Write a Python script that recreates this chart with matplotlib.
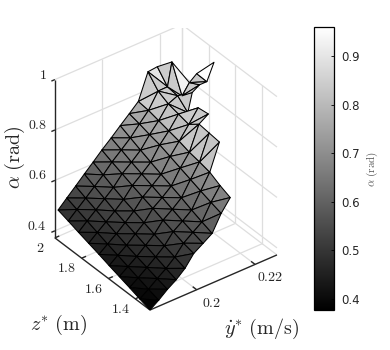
import numpy as np
import matplotlib
matplotlib.use("Agg")
import matplotlib.pyplot as plt
from matplotlib.cm import ScalarMappable
from matplotlib.colors import Normalize
from mpl_toolkits.mplot3d import proj3d
from mpl_toolkits.mplot3d.art3d import Poly3DCollection

plt.rcParams["mathtext.fontset"] = "cm"

n = np.nan

# grid
y_star = [0.184, 0.187, 0.190, 0.193, 0.196, 0.199, 0.2022, 0.2053, 0.2084, 0.2115,
          0.2148, 0.218, 0.2195, 0.222, 0.2245]
z_star = [1.29, 1.366, 1.443, 1.519, 1.595, 1.671, 1.748, 1.824, 1.900, 1.976]

# rows: z_star, columns: y_star
alpha = [
    [.372, .396, .424, .447, .477, .521, .545, .569, .633, .680, n, n, n, n, n],
    [.385, .409, .436, .461, .491, .531, .558, .584, .646, .697, n, n, n, n, n],
    [.399, .423, .449, .476, .505, .546, .572, .600, .660, .719, .822, n, n, n, n],
    [.412, .437, .462, .491, .520, .561, .588, .618, .675, .729, .827, n, n, n, n],
    [.425, .451, .476, .506, .535, .577, .604, .634, .690, .737, .832, .856, n, n, n],
    [.439, .465, .491, .520, .551, .591, .620, .650, .705, .750, .800, .850, n, n, n],
    [.452, .480, .507, .535, .566, .606, .636, .667, .720, .760, .810, .800, .872, .890, .890],
    [.465, .495, .524, .553, .583, .622, .652, .684, .730, .770, .820, .836, .828, .868, .891],
    [.479, .510, .540, .571, .602, .638, .670, .702, .742, .780, .840, .841, .932, n, n],
    [.492, .525, .557, .590, .622, .655, .687, .720, .752, .785, .886, .890, n, n, n],
]

# tip of the spike, off the grid
tip = (0.2262, 1.7315, 0.965)

# the few near white faces at the top
white_faces = {((12, 7), (13, 7), (12, 8)): 0.93, ((11, 8), (11, 9), (10, 9)): 0.90}

y_lim = (0.184, 0.2275)
z_lim = (1.29, 2.0)
a_lim = (0.372, 1.0)
y_ticks = [0.2, 0.22]
z_ticks = [1.4, 1.6, 1.8, 2.0]
a_ticks = [0.4, 0.6, 0.8, 1.0]
y_labels = ["0.2", "0.22"]
z_labels = ["1.4", "1.6", "1.8", "2"]
a_labels = ["0.4", "0.6", "0.8", "1"]
cbar_ticks = [0.4, 0.5, 0.6, 0.7, 0.8, 0.9]

fig = plt.figure(figsize=(3.9, 3.5), dpi=100)
ax = fig.add_axes([0.1, 0.1, 0.7, 0.78], projection="3d", proj_type="ortho")
ax.view_init(elev=35, azim=232.9)
ax.set_box_aspect((159, 157.5, 193))
ax.set_xlim(*y_lim, view_margin=0)
ax.set_ylim(*z_lim, view_margin=0)
ax.set_zlim(*a_lim, view_margin=0)
ax.set_axis_off()
ax.computed_zorder = False
ax.patch.set_alpha(0)

GRID = "#dedede"
DARK = "#262626"


def line(p, q, color=GRID, lw=0.9, z=1):
    ax.plot([p[0], q[0]], [p[1], q[1]], [p[2], q[2]], color=color, lw=lw, zorder=z,
            solid_capstyle="butt")


y0, y1 = y_lim
z0, z1 = z_lim
a0, a1 = a_lim

# back walls and floor grid
for a in a_ticks:
    line((y0, z1, a), (y1, z1, a))
    line((y1, z1, a), (y1, z0, a))
for y in y_ticks + [y1]:
    line((y, z1, a0), (y, z1, a1))
    line((y, z0, a0), (y, z1, a0))
for z in z_ticks:
    line((y1, z, a0), (y1, z, a1))
    line((y0, z, a0), (y1, z, a0))

# axis lines and ticks
line((y0, z0, a0), (y1, z0, a0), DARK, 1.0, 2)
line((y0, z0, a0), (y0, z1, a0), DARK, 1.0, 2)
line((y0, z1, a0), (y0, z1, a1), DARK, 1.0, 2)
for a in a_ticks:
    line((y0, z1, a), (y0 - 0.0012, z1, a), DARK, 1.0, 2)
for z in z_ticks:
    line((y0, z, a0), (y0 + 0.0015, z, a0), DARK, 1.0, 2)
for y in y_ticks:
    line((y, z0, a0), (y, z0 + 0.03, a0), DARK, 1.0, 2)

# surface
norm = Normalize(0.377, 0.96)
A = np.array(alpha)
pts = {}
for j, z in enumerate(z_star):
    for i, y in enumerate(y_star):
        if not np.isnan(A[j, i]):
            pts[(i, j)] = (y, z, A[j, i])

faces = []
shades = []
for j in range(len(z_star) - 1):
    for i in range(len(y_star) - 1):
        for tri in (((i, j), (i + 1, j), (i, j + 1)),
                    ((i + 1, j), (i + 1, j + 1), (i, j + 1))):
            if all(k in pts for k in tri):
                vals = [pts[k][2] for k in tri]
                faces.append([pts[k] for k in tri])
                # lighter faces follow their top vertex, the rest the mean
                shade = np.mean(vals) if max(vals) < 0.8 else min(max(vals), 0.84)
                shades.append(white_faces.get(tri, shade))
faces.append([pts[(14, 7)], pts[(14, 6)], tip])
shades.append(tip[2])

surf = Poly3DCollection(faces, facecolors=plt.cm.gray(norm(shades)), edgecolors="black",
                        linewidths=0.75, zorder=3)
ax.add_collection3d(surf, autolim=False)

# fit the box to the reference pixels: front corner and right corner
fig.canvas.draw()
W, H = fig.canvas.get_width_height()


def to_px(p):
    x2, y2, _ = proj3d.proj_transform(*p, ax.get_proj())
    return ax.transData.transform((x2, y2))


front = to_px((y0, z0, a0))
right = to_px((y1, z0, a0))
want_front = np.array([150.0, 40.0])
want_right = np.array([277.0, 95.0])
s = np.linalg.norm(want_right - want_front) / np.linalg.norm(right - front)
bb = ax.get_position()
side = min(bb.width * W, bb.height * H)
org = np.array([bb.x0 * W, bb.y0 * H])
org2 = want_front - (front - org) * s
ax.set_position([org2[0] / W, org2[1] / H, side * s / W, side * s / H])
fig.canvas.draw()


def tick_text(p, dx, dy, label, ha):
    px = to_px(p)
    fig.text((px[0] + dx) / W, (px[1] + dy) / H, f"${label}$", ha=ha, va="center", fontsize=10, color=DARK)


for a, t in zip(a_ticks, a_labels):
    tick_text((y0, z1, a), -8, 5, t, "right")
for z, t in zip(z_ticks, z_labels):
    tick_text((y0, z, a0), -15, -10, t, "center")
for y, t in zip(y_ticks, y_labels):
    tick_text((y, z0, a0), 15, -13, t, "center")

# axis titles
fig.text(59 / 390, 1 - 325 / 350, r"$z^{*}\ \mathrm{(m)}$", ha="center", va="center", fontsize=14.5, color=DARK)
fig.text(262 / 390, 1 - 329 / 350, r"$\dot{y}^{*}\ \mathrm{(m/s)}$", ha="center", va="center", fontsize=14.5, color=DARK)
fig.text(15 / 390, 1 - 157 / 350, r"$\alpha\ \mathrm{(rad)}$", ha="center", va="center", rotation=90, fontsize=14.5, color=DARK)

# colorbar
cax = fig.add_axes([314 / 390, 1 - 310 / 350, 20 / 390, 283 / 350])
cb = fig.colorbar(ScalarMappable(norm=norm, cmap="gray"), cax=cax)
cb.set_ticks(cbar_ticks)
cb.ax.tick_params(direction="in", length=2, width=0.6, labelsize=8.5, labelcolor=DARK, pad=5)
cb.outline.set_linewidth(0.9)
fig.text(372 / 390, 1 - 169 / 350, r"$\alpha\ \mathrm{(rad)}$", ha="center", va="center", rotation=90, fontsize=8, color="#555555")

fig.savefig("out.png", dpi=100)
